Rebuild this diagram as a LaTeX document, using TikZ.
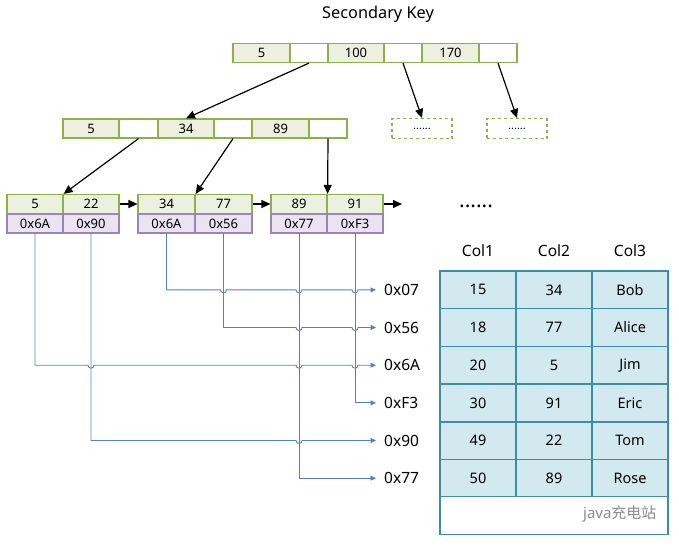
\documentclass[tikz,border=0pt]{standalone}
\usepackage{fontspec}
\setmainfont{Noto Sans}
\newfontfamily\cjk{Noto Sans CJK SC}
\usetikzlibrary{arrows.meta,calc}
\definecolor{gfill}{HTML}{EBF1DE}
\definecolor{gline}{HTML}{8CB04A}
\definecolor{pfill}{HTML}{E9E4F0}
\definecolor{pline}{HTML}{9A84BC}
\definecolor{bline}{HTML}{4F82CC}
\definecolor{tfill}{HTML}{D3E9F0}
\definecolor{tline}{HTML}{3A8EA6}
\tikzset{
  gcell/.style={draw=gline, fill=gfill, line width=1.2pt, inner sep=0pt, minimum height=19pt, font=\fontsize{13}{15}\selectfont},
  ecell/.style={gcell, fill=white},
  pcell/.style={draw=pline, fill=pfill, line width=1.2pt, inner sep=0pt, minimum height=19pt, font=\fontsize{13}{15}\selectfont},
  dbox/.style={draw=gline, dashed, line width=1.1pt, fill=white, inner sep=0pt, minimum width=60pt, minimum height=20pt, font=\fontsize{11}{12}\selectfont},
  tcell/.style={draw=tline, fill=tfill, line width=1.5pt, inner sep=0pt, minimum height=37.7pt, font=\fontsize{14.5}{16}\selectfont},
  thead/.style={inner sep=0pt, font=\fontsize{15.5}{17}\selectfont},
  plabel/.style={anchor=west, inner xsep=8pt, inner ysep=0pt, font=\fontsize{15.5}{17}\selectfont},
  barrow/.style={-{Triangle[length=9pt,width=8pt]}, line width=1.2pt, black},
  blink/.style={-{Triangle[length=5.5pt,width=5pt]}, line width=0.9pt, bline},
}
\newcommand{\mycell}[6]{\node[#1, minimum width={(#4-#3)*1pt}] (#2) at ({(#3+#4)/2},#5) {#6};}
\begin{document}
\begin{tikzpicture}[x=1pt,y=-1pt]
\useasboundingbox (0,0) rectangle (679,546);
\node[font=\fontsize{16.3}{18}\selectfont] (title) at (378,14) {Secondary Key};
% top level
\mycell{gcell}{t1}{233}{290}{53}{5}
\mycell{ecell}{t2}{290}{328}{53}{}
\mycell{gcell}{t3}{328}{384}{53}{100}
\mycell{ecell}{t4}{384}{422}{53}{}
\mycell{gcell}{t5}{422}{479}{53}{170}
\mycell{ecell}{t6}{479}{517}{53}{}
% second level
\mycell{gcell}{m1}{63}{119}{128.5}{5}
\mycell{ecell}{m2}{119}{158}{128.5}{}
\mycell{gcell}{m3}{158}{214}{128.5}{34}
\mycell{ecell}{m4}{214}{252}{128.5}{}
\mycell{gcell}{m5}{252}{309}{128.5}{89}
\mycell{ecell}{m6}{309}{347}{128.5}{}
\node[dbox] (d1) at (422,128.5) {......};
\node[dbox] (d2) at (517,128.5) {......};
% leaves
\mycell{gcell}{l1a}{7}{63}{204}{5}
\mycell{gcell}{l1b}{63}{119}{204}{22}
\mycell{pcell}{l1c}{7}{63}{223.5}{0x6A}
\mycell{pcell}{l1d}{63}{119}{223.5}{0x90}
\mycell{gcell}{l2a}{138}{195}{204}{34}
\mycell{gcell}{l2b}{195}{252}{204}{77}
\mycell{pcell}{l2c}{138}{195}{223.5}{0x6A}
\mycell{pcell}{l2d}{195}{252}{223.5}{0x56}
\mycell{gcell}{l3a}{271}{327}{204}{89}
\mycell{gcell}{l3b}{327}{383}{204}{91}
\mycell{pcell}{l3c}{271}{327}{223.5}{0x77}
\mycell{pcell}{l3d}{327}{383}{223.5}{0xF3}
\coordinate (lend) at (402,204);
\node[font=\fontsize{21}{23}\selectfont] (more) at (476,206) {......};
% black arrows
\draw[barrow] (t2.south) -- (m3.north);
\draw[barrow] (t4.south) -- (d1.north);
\draw[barrow] (t6.south) -- (d2.north);
\draw[barrow] (m2.south) -- (l1a.north east);
\draw[barrow] (m4.south) -- (l2a.north east);
\draw[barrow] (m6.south) -- (l3a.north east);
\draw[barrow] (l1b.east) -- (l2a.west);
\draw[barrow] (l2b.east) -- (l3a.west);
\draw[barrow] (l3b.east) -- (lend);
% pointer labels
\node[plabel] (p07) at (376,289.9) {0x07};
\node[plabel] (p56) at (376,327.5) {0x56};
\node[plabel] (p6A) at (376,365.2) {0x6A};
\node[plabel] (pF3) at (376,402.9) {0xF3};
\node[plabel] (p90) at (376,440.5) {0x90};
\node[plabel] (p77) at (376,478.2) {0x77};
% blue links with hops
\draw[blink] (l2c.south) -- (166.5,289.9) -- (220.5,289.9) arc[start angle=180,end angle=0,radius=3]
  -- (296,289.9) arc[start angle=180,end angle=0,radius=3]
  -- (352,289.9) arc[start angle=180,end angle=0,radius=3] -- (p07.west);
\draw[blink] (l2d.south) -- (223.5,327.5) -- (296,327.5) arc[start angle=180,end angle=0,radius=3]
  -- (352,327.5) arc[start angle=180,end angle=0,radius=3] -- (p56.west);
\draw[blink] (l1c.south) -- (35,365.2) -- (88,365.2) arc[start angle=180,end angle=0,radius=3]
  -- (296,365.2) arc[start angle=180,end angle=0,radius=3]
  -- (352,365.2) arc[start angle=180,end angle=0,radius=3] -- (p6A.west);
\draw[blink] (l3d.south) -- (355,402.9) -- (pF3.west);
\draw[blink] (l1d.south) -- (91,440.5) -- (296,440.5) arc[start angle=180,end angle=0,radius=3] -- (p90.west);
\draw[blink] (l3c.south) -- (299,478.2) -- (p77.west);
% table
\node[thead] (h1) at (478,251) {Col1};
\node[thead] (h2) at (554,251) {Col2};
\node[thead] (h3) at (630,251) {Col3};
\foreach \r/\a/\b/\c [count=\i] in {0/15/34/Bob,1/18/77/Alice,2/20/5/Jim,3/30/91/Eric,4/49/22/Tom,5/50/89/Rose}{
  \pgfmathsetmacro{\yc}{289.85+37.7*\r}
  \mycell{tcell}{r\i a}{440}{516}{\yc}{\a}
  \mycell{tcell}{r\i b}{516}{592}{\yc}{\b}
  \mycell{tcell}{r\i c}{592}{668}{\yc}{\c}
}
\mycell{tcell,fill=white}{rfoot}{440}{668}{515.5}{}
\node[text=black!45, font=\fontsize{15}{17}\selectfont, anchor=east] (wm) at (660,514) {java{\cjk 充电站}};
\end{tikzpicture}
\end{document}
